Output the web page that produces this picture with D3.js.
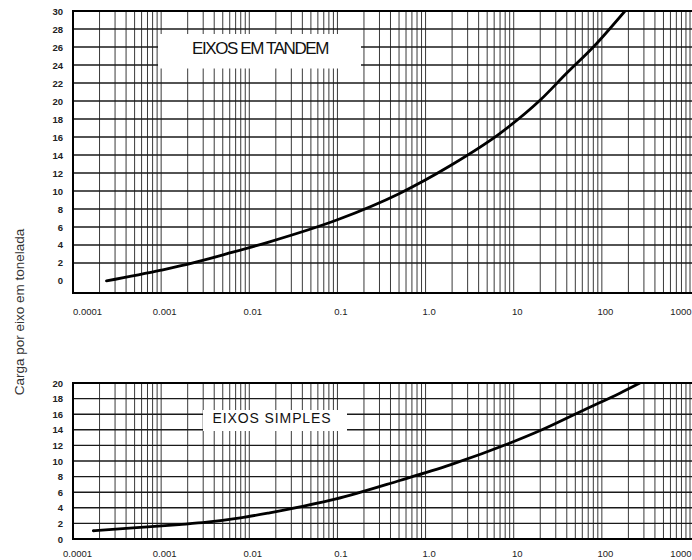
<!DOCTYPE html>
<html>
<head>
<meta charset="utf-8">
<script src="https://cdn.jsdelivr.net/npm/d3@7"></script>
<style>
  html, body { margin: 0; padding: 0; background: #fff; }
  svg { display: block; font-family: "Liberation Sans", Arial, sans-serif; }
</style>
</head>
<body>
<svg id="chart" width="692" height="560"></svg>
<script>
// ---- data ----
const xDecades = [0.0001, 0.001, 0.01, 0.1, 1, 10, 100, 1000];
const xLabels = ['0.0001', '0.001', '0.01', '0.1', '1.0', '10', '100', '1000'];

const tandemTicks = [0, 2, 4, 6, 8, 10, 12, 14, 16, 18, 20, 22, 24, 26, 28, 30];
const simplesTicks = [0, 2, 4, 6, 8, 10, 12, 14, 16, 18, 20];

// equivalence factor (x) vs load per axle in tonnes (y)
const tandemN    = [0.00024, 0.001, 0.0023, 0.0055, 0.017, 0.1, 0.5, 1.9, 7, 20, 40, 80, 183];
const tandemLoad = [0, 1.2, 2.0, 3.0, 4.35, 6.8, 9.7, 12.8, 16.4, 20.1, 23.1, 26.0, 30];

const simplesN    = [0.00017, 0.00048, 0.0016, 0.0033, 0.0079, 0.017, 0.094, 0.51, 1.9, 9.1, 20, 67, 160, 270];
const simplesLoad = [1.06, 1.42, 1.85, 2.15, 2.7, 3.36, 5.1, 7.5, 9.5, 12.3, 13.9, 16.7, 18.7, 20];

(function () {
    'use strict';

    const svg = d3.select('#chart');
    const left = 73, right = 700;

    // shared log x scale (both panels line up)
    const x = d3.scaleLog().domain([0.0001, 1000]).range([73, 690]);

    // minor lines 1..9 per decade
    const vLines = [];
    xDecades.forEach((d, i) => {
        if (i === xDecades.length - 1) { vLines.push(d); return; }
        for (let k = 1; k <= 9; k++) vLines.push(d * k);
    });

    const panels = [
        {
            top: 11, bottom: 293, yDomain: [-1.34, 30], ticks: tandemTicks,
            grid: tandemTicks.filter(t => t > 0 && t < 30),
            n: tandemN, load: tandemLoad,
            label: 'EIXOS EM TANDEM', box: [158, 34, 203, 34.5],
            labelX: 260, labelY: 54, labelSize: 17, spacing: -1.4,
            tickY: 318
        },
        {
            top: 383, bottom: 539, yDomain: [0, 20], ticks: simplesTicks,
            grid: simplesTicks.filter(t => t > 0 && t < 20),
            n: simplesN, load: simplesLoad,
            label: 'EIXOS SIMPLES', box: [203, 410, 144, 21],
            labelX: 272, labelY: 423, labelSize: 14, spacing: 0.9,
            tickY: 560
        }
    ];

    panels.forEach((p, pi) => {
        const y = d3.scaleLinear().domain(p.yDomain).range([p.bottom, p.top]);
        const g = svg.append('g');

        const clipId = 'clip' + pi;
        svg.append('clipPath').attr('id', clipId)
            .append('rect')
            .attr('x', left).attr('y', p.top)
            .attr('width', right - left).attr('height', p.bottom - p.top);

        // vertical grid
        g.selectAll('line.v').data(vLines).enter().append('line')
            .attr('class', 'v')
            .attr('x1', d => x(d)).attr('x2', d => x(d))
            .attr('y1', p.top).attr('y2', p.bottom)
            .attr('stroke', '#3a3a3a').attr('stroke-width', 1);

        // horizontal grid
        g.selectAll('line.h').data(p.grid).enter().append('line')
            .attr('class', 'h')
            .attr('x1', left).attr('x2', right)
            .attr('y1', d => y(d)).attr('y2', d => y(d))
            .attr('stroke', '#1a1a1a').attr('stroke-width', 1.4);

        // label box blanks out the grid
        g.append('rect')
            .attr('x', p.box[0]).attr('y', p.box[1])
            .attr('width', p.box[2]).attr('height', p.box[3])
            .attr('fill', '#fff');

        g.append('text')
            .attr('x', p.labelX).attr('y', p.labelY)
            .attr('text-anchor', 'middle')
            .attr('font-size', p.labelSize + 'px')
            .attr('letter-spacing', p.spacing + 'px')
            .attr('fill', '#111')
            .text(p.label);

        // curve
        const pts = p.n.map((v, i) => [v, p.load[i]]);
        g.append('path')
            .datum(pts)
            .attr('clip-path', `url(#${clipId})`)
            .attr('fill', 'none')
            .attr('stroke', '#000')
            .attr('stroke-width', 2.8)
            .attr('stroke-linecap', 'round')
            .attr('d', d3.line()
                .x(d => x(d[0]))
                .y(d => y(d[1]))
                .curve(d3.curveMonotoneX));

        // frame
        g.append('path')
            .attr('d', `M${right},${p.top}H${left}V${p.bottom}H${right}`)
            .attr('fill', 'none')
            .attr('stroke', '#000')
            .attr('stroke-width', 2);

        // y tick labels
        const yAxis = svg.append('g')
            .attr('transform', `translate(${left - 10},0)`)
            .call(d3.axisLeft(y).tickValues(p.ticks).tickSize(0).tickPadding(0));
        yAxis.select('.domain').remove();
        yAxis.selectAll('text')
            .attr('font-family', '"Liberation Sans", Arial, sans-serif')
            .attr('font-size', '9.5px')
            .attr('font-weight', 'bold')
            .attr('fill', '#222');

        // x tick labels
        const xAxis = svg.append('g')
            .attr('transform', `translate(0,${p.tickY - 10})`)
            .call(d3.axisBottom(x).tickValues(xDecades)
                .tickFormat((d, i) => xLabels[i]).tickSize(0).tickPadding(0));
        xAxis.select('.domain').remove();
        const last = xDecades.length - 1;
        xAxis.selectAll('text')
            .attr('font-family', '"Liberation Sans", Arial, sans-serif')
            .attr('font-size', '9.5px')
            .attr('fill', '#222')
            .attr('text-anchor', (d, i) => i === last ? 'end' : 'middle')
            .attr('dx', (d, i) => i === 0 ? (pi === 0 ? 14 : 4) : (i === last ? 1 : 3));
    });

    // shared y title
    svg.append('text')
        .attr('transform', 'translate(24,312) rotate(-90)')
        .attr('text-anchor', 'middle')
        .attr('font-size', '13.5px')
        .attr('fill', '#333')
        .text('Carga por eixo em tonelada');
})();
</script>
</body>
</html>
